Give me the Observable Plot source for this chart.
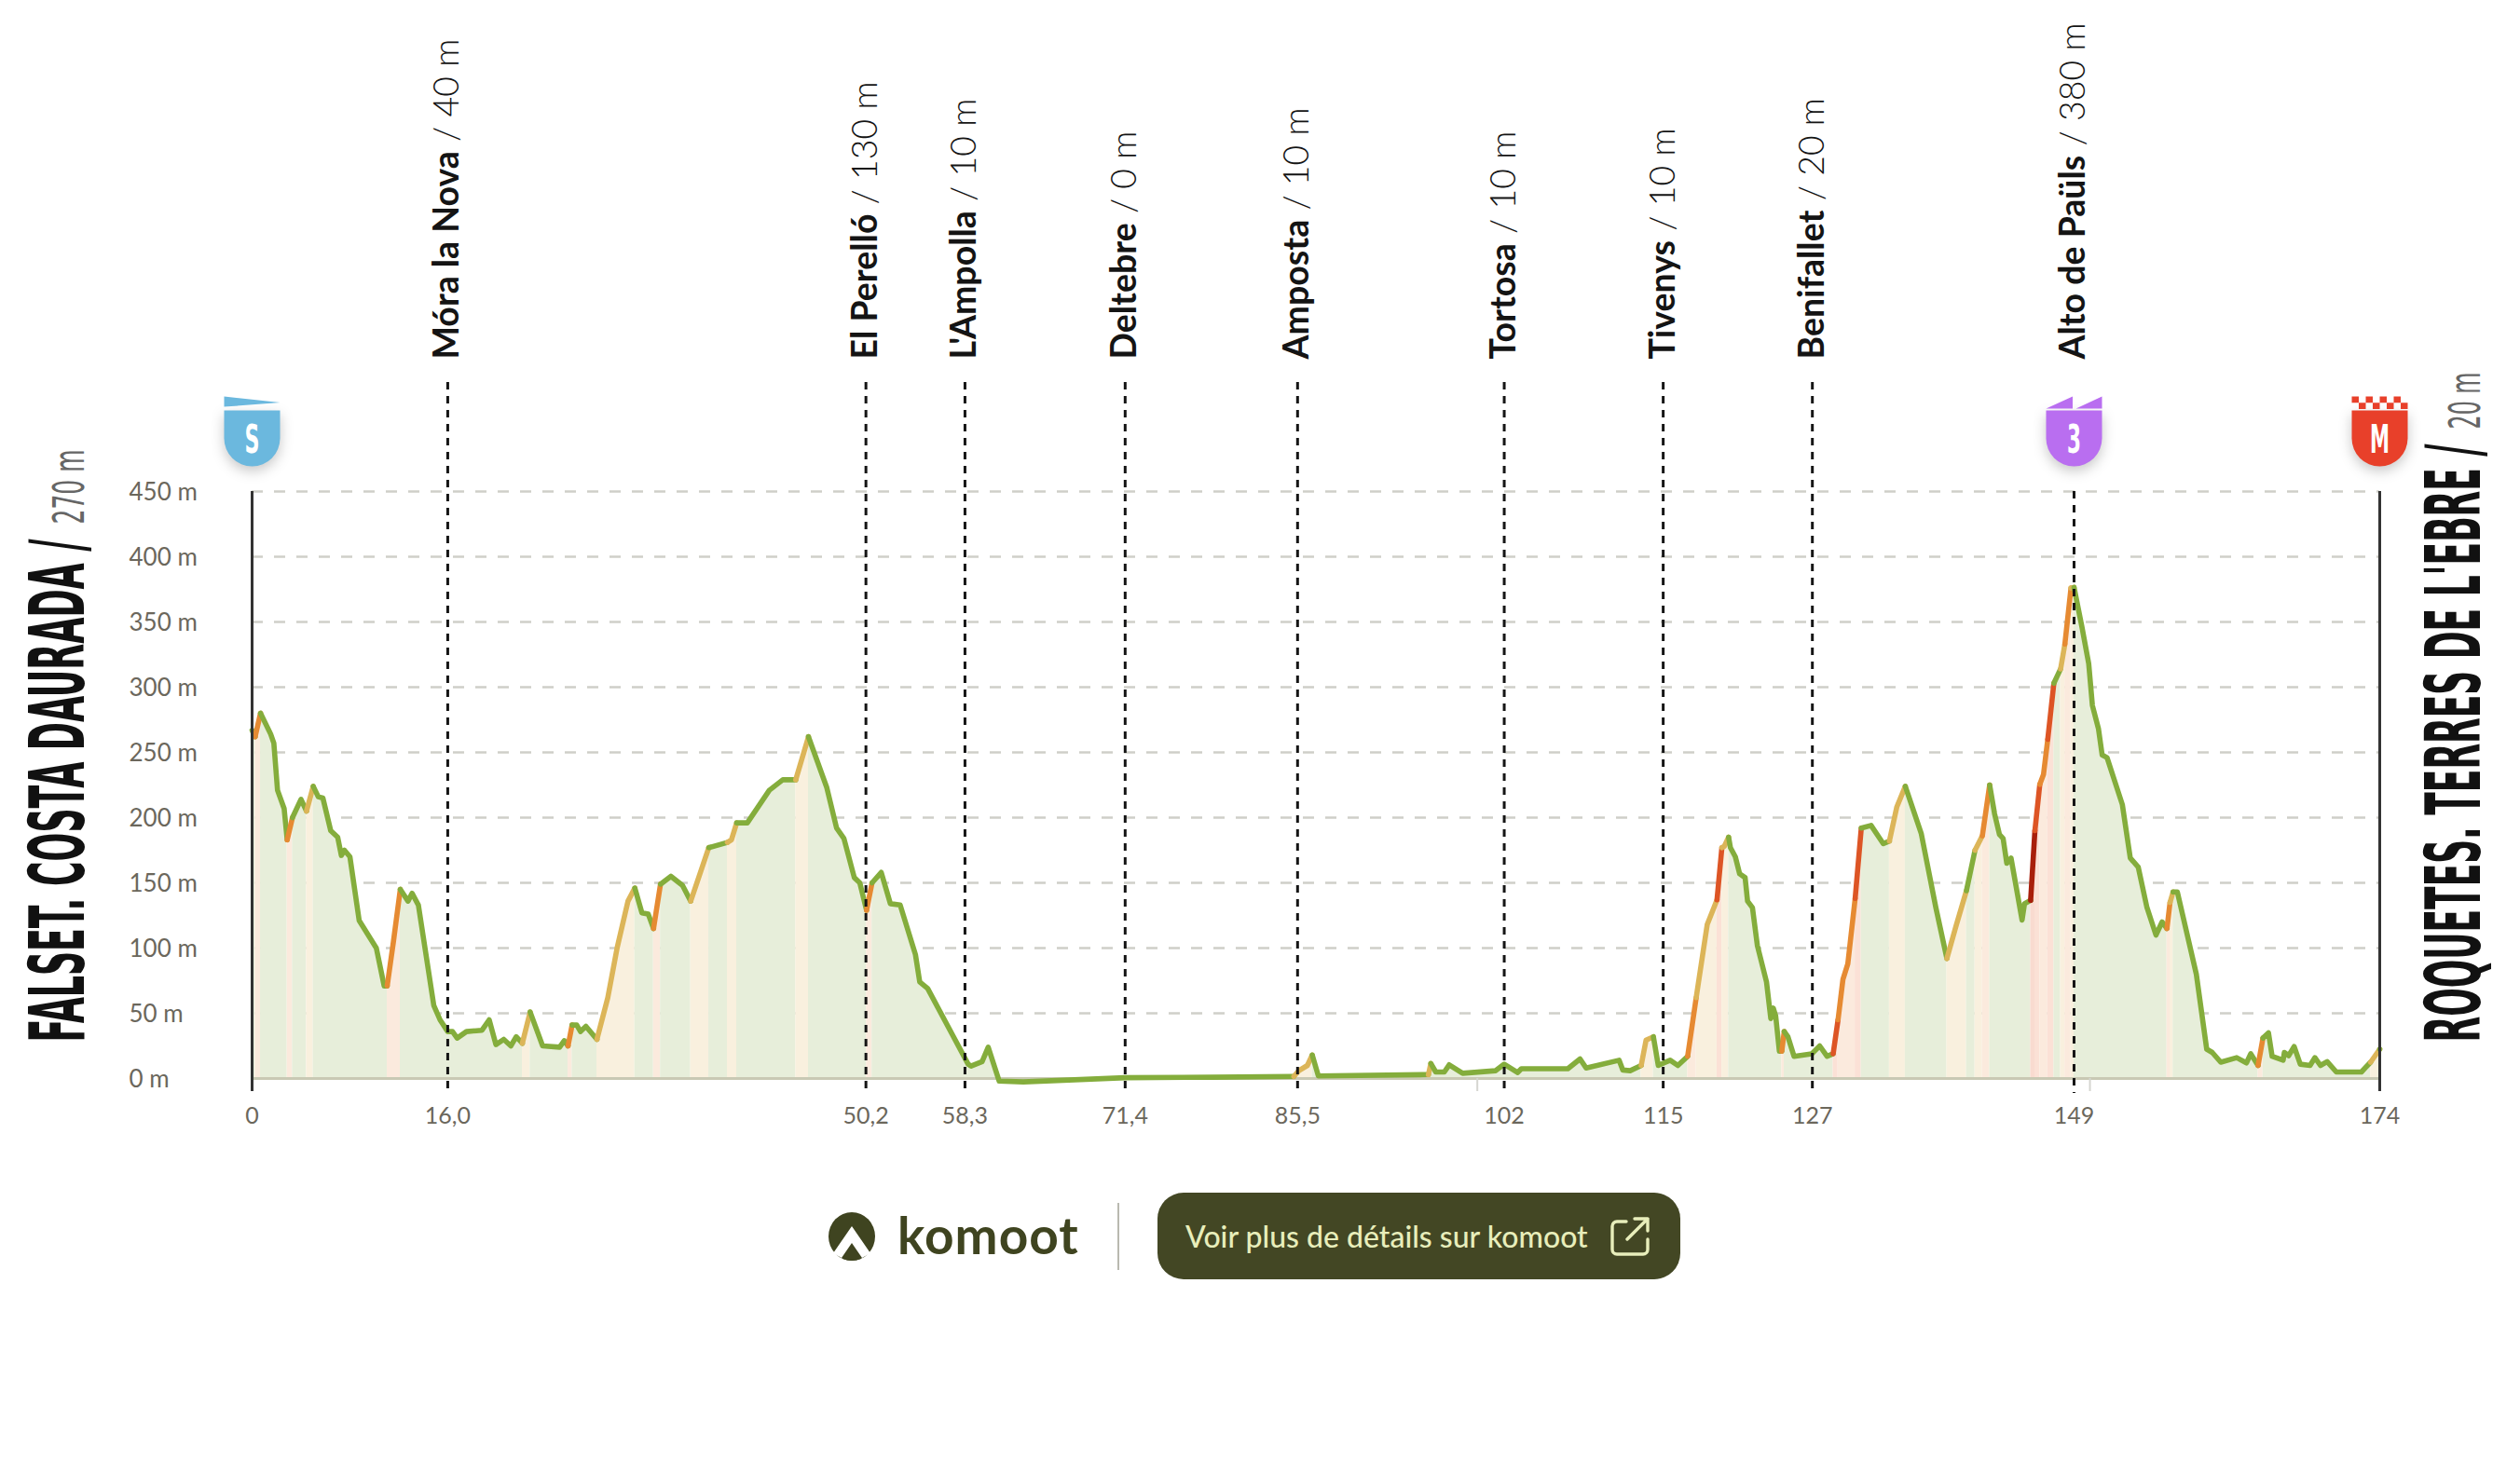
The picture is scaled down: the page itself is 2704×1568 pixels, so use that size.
<!DOCTYPE html>
<html lang="fr">
<head>
<meta charset="utf-8">
<script src="https://cdn.jsdelivr.net/npm/d3@7"></script>
<script src="https://cdn.jsdelivr.net/npm/@observablehq/plot@0.6"></script>
<style>
html,body{margin:0;padding:0;background:#fff;}
#page{position:relative;width:2704px;height:1568px;overflow:hidden;}
#page svg.plot-root{display:block;}
.badge-body path{filter:drop-shadow(0 5px 7px rgba(0,0,0,.22));}
#logo{position:absolute;left:889px;top:1301px;}
#word{position:absolute;left:963px;top:1290px;font:700 55px/70px Lato,sans-serif;color:#3f4420;letter-spacing:1px;}
#rule{position:absolute;left:1199px;top:1291px;width:2px;height:72px;background:#b9b9b0;}
#btn{position:absolute;left:1242px;top:1280px;width:561px;height:93px;border-radius:28px;background:#434724;}
#btn span{position:absolute;left:30px;top:0;font:500 32px/93px Lato,sans-serif;color:#e8eebb;white-space:nowrap;}
#btn svg{position:absolute;left:486px;top:26px;}
</style>
</head>
<body>
<div id="page"></div>
<script>
const startTitle = "FALSET. COSTA DAURADA /";
const startAlt = "270 m";
const finishTitle = "ROQUETES. TERRES DE L'EBRE /";
const finishAlt = "20 m";

const profile = [
[0,267],[.25,262],[.69,280],[1.52,264],[1.78,257],[2.08,221],[2.62,207],[2.87,183],[3.3,200],[4,214],[4.45,205],[5,224],[5.41,216],[5.79,215],[6.43,190],[7,185],[7.3,171],[7.55,175],[8,170],[8.76,121],[10.16,100],[10.8,71],[11.05,71],[11.56,105],[12.12,145],[12.75,136],[13.08,142],[13.6,133],[14.86,56],[15.37,45],[16,36],[16.39,36],[16.77,31],[17.53,36],[18.8,37],[19.39,45],[19.94,26],[20.58,30],[21.16,25],[21.6,32],[22.1,27],[22.74,51],[23.76,25],[25.15,24],[25.53,29],[25.84,25],[26.17,41],[26.55,41],[26.86,36],[27.3,40],[28.2,30],[29.09,62],[29.85,100],[30.74,136],[31.3,146],[31.88,127],[32.4,126],[32.83,115],[33.4,149],[34.25,155],[35.2,148],[35.87,136],[37.35,177],[38.87,181],[39.2,183],[39.63,196],[40.5,196],[42.3,221],[43.4,229],[44.46,229],[45.5,262],[47,223],[47.8,192],[48.4,184],[49.25,154],[49.7,150],[50.25,129],[50.7,150],[51.45,158],[52.2,134],[53,133],[54.25,95],[54.6,74],[55.25,69],[58.56,11],[58.8,9.5],[59.7,13],[60.2,24],[61.1,-2],[63.07,-2.6],[71.4,.6],[78.6,1],[85.2,1.6],[85.6,6],[86.3,10],[86.7,18],[87.2,2],[96.2,3],[96.4,11.5],[96.8,5],[97.5,5],[97.9,10.5],[99,4],[101.7,6],[102.4,11],[103.5,4.6],[103.8,7.5],[107.6,7.5],[108.6,15],[109.1,8],[111.8,14],[112.1,6.5],[112.7,6],[113.6,10],[114,29.5],[114.6,32],[115,10],[115.47,12],[115.97,14],[116.6,10],[117.4,17],[118.1,62],[119,118],[119.8,137],[120.2,177],[120.4,178],[120.75,185],[120.9,177],[121.3,170],[121.65,157],[122.1,154],[122.3,136],[122.7,131],[123.1,102],[123.85,74],[124.2,46],[124.4,54],[124.6,48],[124.9,21],[125.1,21],[125.3,36],[125.6,32],[126.1,17],[127.55,19],[128.2,25],[128.8,17],[129.3,19],[129.7,45],[130.1,76],[130.5,88],[131.1,138],[131.6,192],[132.4,194],[133.4,180],[133.9,182],[134.5,208],[135.2,224],[136.5,188],[137.7,131],[138.6,92],[139.35,117],[140.2,144],[140.9,175],[141.5,186],[142.1,225],[142.5,203],[142.9,187],[143.2,184],[143.5,165],[143.85,169],[144.75,121.5],[144.95,134],[145.45,136.6],[145.8,190],[146.2,225.5],[146.5,233],[146.85,260],[147.35,303],[147.9,314],[148.25,333],[148.75,376],[149,376.5],[149.65,346],[150.2,318],[150.5,286],[151,268],[151.3,248],[151.7,246],[152.95,210],[153.6,169],[154.25,162],[154.95,131.6],[155.7,110],[156.2,120],[156.6,115],[156.85,135],[157.1,143],[157.45,143],[159,80],[159.85,22.5],[160.3,20],[161,12.5],[162.3,16],[163.1,12],[163.45,19],[164.05,10],[164.45,31],[164.9,35],[165.2,17],[166.1,14],[166.2,20],[166.55,17.5],[167,24.5],[167.5,11],[168.3,10],[168.7,16],[169.15,10],[169.7,13],[170.45,5],[172.5,5],[173.25,12.5],[174,22.5]
];
// [from km, to km, steepness class]
const gradeRanges = [
[.25,.69,2],[2.87,3.3,2],[4.45,5,1],[11.05,12.12,2],[22.1,22.74,1],[25.84,26.17,2],[28.2,31.3,1],[32.83,33.4,2],[35.87,37.35,1],[38.87,39.63,1],[44.46,45.5,1],[50.25,50.7,2],[85.2,86.7,1],[96.2,96.4,1],[113.6,114.6,1],[117.4,118.1,2],[118.1,119.8,1],[119.8,120.2,3],[120.2,120.75,1],[125.1,125.3,2],[129.3,129.7,3],[129.7,131.1,2],[131.1,131.6,3],[133.9,135.2,1],[138.6,140.2,1],[140.9,141.5,1],[141.5,142.1,2],[145.45,145.8,4],[145.8,146.2,3],[146.2,146.85,2],[146.85,147.35,3],[147.9,148.25,1],[148.25,148.75,2],[148.75,149,1],[156.6,156.85,2],[156.85,157.1,1],[164.05,164.45,2],[173.25,174,1]
];
const lineColors = ["#84ad3c","#dcb558","#e68a32","#dd5525","#a81f0c"];
const bandColors = ["#e7eeda","#f9f0de","#fbeadd","#fbe1d6","#f9dbd0"];

const stopNames = ["Móra la Nova","El Perelló","L'Ampolla","Deltebre","Amposta","Tortosa","Tivenys","Benifallet","Alto de Paüls"];
const stopAlts = ["40 m","130 m","10 m","0 m","10 m","10 m","10 m","20 m","380 m"];
const stopKms = [16,50.2,58.3,71.4,85.5,102.4,115.4,127.6,149];

const elevationTicks = [0,50,100,150,200,250,300,350,400,450];
const distanceKms = [0,16,50.2,58.3,71.4,85.5,102.4,115.4,127.6,149,174];
const distanceLabels = ["0","16,0","50,2","58,3","71,4","85,5","102","115","127","149","174"];
const faintTickKms = [100.2,150.3];
const edgeKms = [0,174];

const badgeKms = [0,149,174];
const badgeLetters = ["S","3","M"];
const badgeColors = ["#6bb8de","#b96ef0","#e8402a"];

const gradeAt = km => { const g = gradeRanges.find(r => km >= r[0] && km < r[1]); return g ? g[2] : 0; };
const rows = profile.map(([km,m]) => ({km, m, line: lineColors[gradeAt(km)], band: bandColors[gradeAt(km)]}));
const stops = stopNames.map((name,i) => ({name, alt: stopAlts[i], km: stopKms[i], label: name + " / " + stopAlts[i]}));
const distances = distanceKms.map((km,i) => ({km, label: distanceLabels[i]}));
const badges = badgeKms.map((km,i) => ({km, letter: badgeLetters[i], color: badgeColors[i]}));

const rOf = size => Math.sqrt(size / Math.PI);
const shield = {draw(c,size){const r=rOf(size); c.moveTo(-r,-r); c.lineTo(r,-r); c.lineTo(r,0); c.arc(0,0,r,0,Math.PI); c.closePath();}};
const pennant = {draw(c,size){const r=rOf(size); c.moveTo(-r,-1.5*r); c.lineTo(r,-1.28*r); c.lineTo(-r,-1.13*r); c.closePath();}};
const doubleFlag = {draw(c,size){const r=rOf(size); c.moveTo(-r,-1.07*r); c.lineTo(-.05*r,-1.5*r); c.lineTo(-.05*r,-1.07*r); c.closePath(); c.moveTo(.07*r,-1.07*r); c.lineTo(r,-1.5*r); c.lineTo(r,-1.07*r); c.closePath();}};
const checker = {draw(c,size){const r=rOf(size), w=r/4; for(let row=0;row<2;row++) for(let col=0;col<8;col++) if((row+col)%2===0){const x=-r+col*w,y=-1.5*r+row*w*.9; c.moveTo(x,y); c.lineTo(x+w,y); c.lineTo(x+w,y+w*.9); c.lineTo(x,y+w*.9); c.closePath();}}};

const badgeY = -57;
const labelFont = "Lato, sans-serif";
const narrowFont = "'Liberation Sans Narrow', 'DejaVu Sans Condensed', sans-serif";
const grey = "#6b675c";

const chart = Plot.plot({
  width: 2704, height: 1260,
  marginLeft: 270, marginRight: 151, marginTop: 527, marginBottom: 103,
  x: {domain: [0,174], axis: null},
  y: {domain: [0,450], axis: null},
  color: {type: "identity"},
  style: {background: "transparent", fontFamily: labelFont, overflow: "visible"},
  marks: [
    Plot.ruleY(elevationTicks.filter(d => d > 0), {stroke: "#cfcfc9", strokeWidth: 2.4, strokeDasharray: "12 12"}),
    Plot.areaY(rows, {x: "km", y: "m", fill: "band", z: null}),
    Plot.ruleY([0], {stroke: "#c9c9b4", strokeWidth: 3}),
    Plot.ruleX(faintTickKms, {y1: 0, y2: -10, stroke: "#d5d5d0", strokeWidth: 2}),
    Plot.line(rows, {x: "km", y: "m", stroke: "line", z: null, strokeWidth: 5.6, strokeLinejoin: "round", strokeLinecap: "round"}),
    Plot.ruleX(edgeKms, {stroke: "#333333", strokeWidth: 3, insetBottom: -14}),
    Plot.ruleX(stopKms.slice(0,-1), {stroke: "#151515", strokeWidth: 3, strokeDasharray: "8 7", insetTop: -117, insetBottom: -16}),
    Plot.ruleX(stopKms.slice(-1), {stroke: "#151515", strokeWidth: 3, strokeDasharray: "8 7", insetBottom: -16}),
    Plot.text(elevationTicks, {y: d => d, text: d => d + " m", frameAnchor: "left", dx: -132, dy: 1.5, textAnchor: "start", fontSize: 26, fill: grey}),
    Plot.text(distances, {x: "km", text: "label", frameAnchor: "bottom", dy: 40, lineAnchor: "middle", fontSize: 25, fill: grey}),
    Plot.text(stops, {x: "km", text: "label", frameAnchor: "top", dy: -142, rotate: -90, textAnchor: "start", lineAnchor: "middle", fontSize: 37.5, fill: "#141414", className: "stop-label"}),
    Plot.dot(badges, {x: "km", frameAnchor: "top", dy: badgeY, r: 30, symbol: shield, fill: "color", stroke: "none", className: "badge-body"}),
    Plot.dot(badges.filter(d => d.letter === "S"), {x: "km", frameAnchor: "top", dy: badgeY, r: 30, symbol: pennant, fill: "color", stroke: "none"}),
    Plot.dot(badges.filter(d => d.letter === "3"), {x: "km", frameAnchor: "top", dy: badgeY, r: 30, symbol: doubleFlag, fill: "color", stroke: "none"}),
    Plot.dot(badges.filter(d => d.letter === "M"), {x: "km", frameAnchor: "top", dy: badgeY, r: 30, symbol: checker, fill: "color", stroke: "none"}),
    Plot.text(badges, {x: "km", text: "letter", frameAnchor: "top", dy: badgeY + 2, lineAnchor: "middle", fontSize: 42, fontWeight: 700, fontFamily: narrowFont, fill: "#fff", className: "badge-letter"}),
    Plot.text([startTitle], {frameAnchor: "bottom-left", dx: -181, dy: -39, rotate: -90, textAnchor: "start", lineAnchor: "bottom", fontSize: 82, fontWeight: 700, fontFamily: narrowFont, fill: "#111", className: "title-start"}),
    Plot.text([startAlt], {frameAnchor: "bottom-left", dx: -181, dy: -595, rotate: -90, textAnchor: "start", lineAnchor: "bottom", fontSize: 47, fontWeight: 400, fontFamily: narrowFont, fill: "#666", className: "alt-start"}),
    Plot.text([finishTitle], {frameAnchor: "bottom-right", dx: 107, dy: -39, rotate: -90, textAnchor: "start", lineAnchor: "bottom", fontSize: 82, fontWeight: 700, fontFamily: narrowFont, fill: "#111", className: "title-finish"}),
    Plot.text([finishAlt], {frameAnchor: "bottom-right", dx: 107, dy: -697, rotate: -90, textAnchor: "start", lineAnchor: "bottom", fontSize: 47, fontWeight: 400, fontFamily: narrowFont, fill: "#666", className: "alt-finish"})
  ]
});
chart.classList.add("plot-root");
const page = document.getElementById("page");
page.appendChild(chart);

// stop labels: bold name, light altitude
d3.select(chart).selectAll(".stop-label text").each(function(){
  const txt = this.textContent, cut = txt.indexOf(" / ");
  const el = d3.select(this); el.text(null);
  el.append("tspan").attr("font-weight", 700).text(txt.slice(0,cut));
  el.append("tspan").attr("font-weight", 300).text(txt.slice(cut));
});
const fit = (cls, len) => d3.select(chart).selectAll(cls + " text").attr("textLength", len).attr("lengthAdjust", "spacingAndGlyphs");
fit(".title-start", 540); fit(".alt-start", 80); fit(".title-finish", 642); fit(".alt-finish", 61);
const letterWidths = {S: 16, 3: 15, M: 21};
d3.select(chart).selectAll(".badge-letter text").each(function(){
  d3.select(this).attr("textLength", letterWidths[this.textContent]).attr("lengthAdjust", "spacingAndGlyphs");
});

page.insertAdjacentHTML("beforeend", `
<svg id="logo" width="50" height="52" viewBox="0 0 50 52">
  <ellipse cx="25" cy="26" rx="25" ry="26" fill="#3f4420"/>
  <path d="M5 44 L25 15 L45 44 L36 49 L25 33 L14 49 Z" fill="#fff"/>
  <path d="M25 36 L35 50 Q25 54 15 50 Z" fill="#3f4420"/>
</svg>
<div id="word">komoot</div>
<div id="rule"></div>
<div id="btn"><span>Voir plus de détails sur komoot</span>
<svg width="42" height="42" viewBox="0 0 42 42" fill="none" stroke="#e8eebb" stroke-width="3.4" stroke-linecap="round" stroke-linejoin="round">
  <path d="M17 5 H7 a5 5 0 0 0 -5 5 V35 a5 5 0 0 0 5 5 H35 a5 5 0 0 0 5 -5 V24"/>
  <path d="M18 24 L40 2 M26 2 H40 V15"/>
</svg></div>`);
</script>
</body>
</html>
